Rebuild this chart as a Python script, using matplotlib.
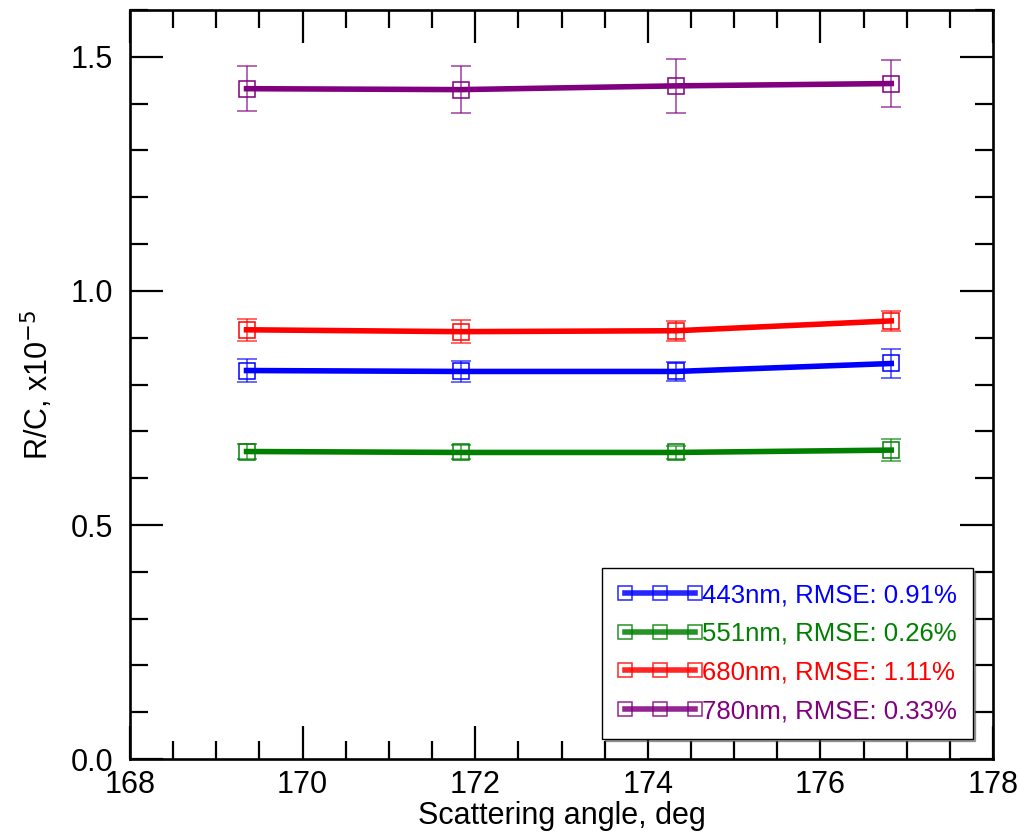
import matplotlib
matplotlib.use('Agg')
import matplotlib.pyplot as plt
from matplotlib.ticker import MultipleLocator

plt.rcParams['font.family'] = ['Liberation Sans', 'DejaVu Sans']

angles = [169.35, 171.83, 174.33, 176.82]
labels = ["443nm, RMSE: 0.91%", "551nm, RMSE: 0.26%",
          "680nm, RMSE: 1.11%", "780nm, RMSE: 0.33%"]
colors = ["blue", "green", "red", "purple"]

rc_443 = [0.830, 0.828, 0.828, 0.845]
rc_551 = [0.657, 0.655, 0.655, 0.660]
rc_680 = [0.917, 0.913, 0.915, 0.936]
rc_780 = [1.432, 1.430, 1.438, 1.443]

err_443 = [0.025, 0.023, 0.020, 0.031]
err_551 = [0.015, 0.015, 0.014, 0.024]
err_680 = [0.023, 0.024, 0.021, 0.021]
err_780 = [0.048, 0.051, 0.057, 0.050]

values = [rc_443, rc_551, rc_680, rc_780]
errors = [err_443, err_551, err_680, err_780]

fig = plt.figure(figsize=(10.19, 8.36), dpi=100)
ax = fig.add_axes([0.1276, 0.092, 0.847, 0.896])

for vals, errs, col, lab in zip(values, errors, colors, labels):
    ax.errorbar(angles, vals, yerr=errs, fmt='none', ecolor=col,
                elinewidth=1.1, capsize=7.5, capthick=1.1, alpha=0.75)
    ax.plot(angles, vals, color=col, linewidth=4, marker='s', markersize=11,
            markerfacecolor='none', markeredgewidth=1.1, label=lab)

ax.set_xlim(168, 178)
ax.set_ylim(0, 1.6)
ax.xaxis.set_major_locator(MultipleLocator(2))
ax.xaxis.set_minor_locator(MultipleLocator(0.5))
ax.yaxis.set_major_locator(MultipleLocator(0.5))
ax.yaxis.set_minor_locator(MultipleLocator(0.1))
ax.yaxis.set_major_formatter(plt.FormatStrFormatter('%.1f'))

ax.tick_params(which='both', direction='in', top=True, right=True,
               width=1.6, labelsize=22)
ax.tick_params(which='major', length=24)
ax.tick_params(which='minor', length=13)
ax.tick_params(axis='x', which='both', pad=7.5)
ax.tick_params(axis='y', which='both', pad=12)
for sp in ax.spines.values():
    sp.set_linewidth(1.9)

ax.set_xlabel('Scattering angle, deg', fontsize=22, labelpad=1)
ax.set_ylabel('R/C, x10$^{-5}$', fontsize=22, labelpad=11)

leg = ax.legend(loc='lower right', numpoints=3, handlelength=3.3,
                handletextpad=0.0, fontsize=18.5, labelcolor='linecolor',
                shadow=True, fancybox=False, framealpha=1,
                edgecolor='black', borderaxespad=0.8, borderpad=0.6,
                labelspacing=0.57, handleheight=0.7)
leg.get_frame().set_linewidth(1)
for h in leg.legend_handles:
    h.set_markersize(10)
    h.set_alpha(0.85)

plt.savefig('out.png', dpi=100)
